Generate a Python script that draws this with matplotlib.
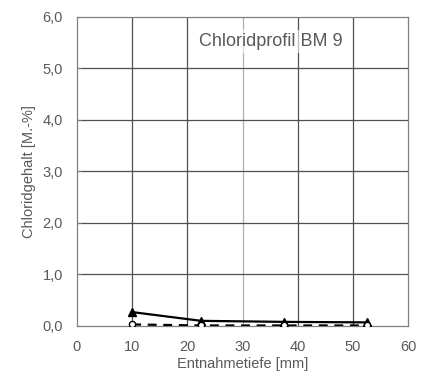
import matplotlib
matplotlib.use("Agg")
import matplotlib.pyplot as plt
from matplotlib.ticker import FuncFormatter

plt.rcParams['font.family'] = ['Liberation Sans', 'DejaVu Sans']

depth = [10, 22.5, 37.5, 52.5]
series_total = [0.27, 0.10, 0.08, 0.07]
series_sol = [0.03, 0.01, 0.01, 0.01]
xticks = [0, 10, 20, 30, 40, 50, 60]
yticks = [0, 1, 2, 3, 4, 5, 6]

fig = plt.figure(figsize=(4.35, 3.76), dpi=100)
ax = fig.add_axes([0.177, 0.133, 0.761, 0.822])
tc = '#595959'

for x in [10, 20, 40, 50]:
    ax.axvline(x, color='#505050', lw=0.9, zorder=1)
ax.axvline(30, color='#b0b0b0', lw=0.9, zorder=1)
for y in [1, 2, 3, 4, 5]:
    ax.axhline(y, color='#505050', lw=0.9, zorder=1)

ax.plot(depth, series_total, color='black', lw=1.6, marker='^', ms=5.5, zorder=3)
ax.plot(depth, series_sol, color='black', lw=1.6, ls=(0, (4, 3)), marker='o', ms=4.5,
        markerfacecolor='white', markeredgecolor='black', zorder=3)

ax.set_xlim(0, 60)
ax.set_ylim(0, 6)
ax.set_xticks(xticks)
ax.set_yticks(yticks)
ax.yaxis.set_major_formatter(FuncFormatter(lambda v, p: f"{v:.1f}".replace('.', ',')))
for s in ax.spines.values():
    s.set_color('#808080')
    s.set_linewidth(0.9)
ax.tick_params(colors=tc, labelsize=10.5, length=0)
ax.tick_params(axis='x', pad=10)
ax.tick_params(axis='y', length=3, direction='in', color='#808080', pad=10)
ax.set_xlabel('Entnahmetiefe [mm]', color=tc, fontsize=10.5, labelpad=2)
ax.set_ylabel('Chloridgehalt [M.-%]', color=tc, fontsize=10.5, labelpad=5)
ax.text(0.586, 0.921, 'Chloridprofil BM 9', transform=ax.transAxes, ha='center', va='center',
        fontsize=13, color=tc,
        bbox=dict(facecolor='white', edgecolor='none', alpha=0.6, pad=2), zorder=4)

fig.savefig('out.png', dpi=100)
